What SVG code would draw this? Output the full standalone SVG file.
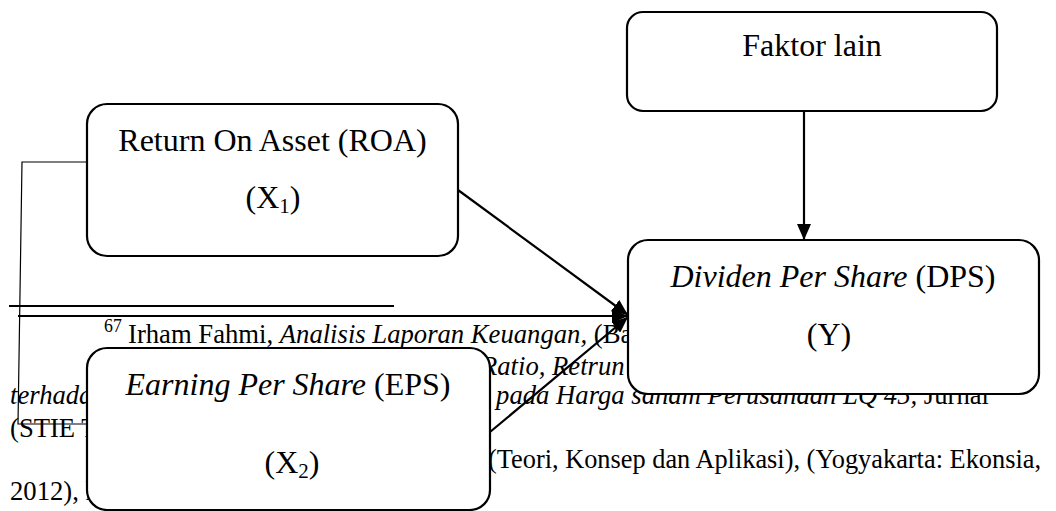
<svg xmlns="http://www.w3.org/2000/svg" width="1056" height="511" viewBox="0 0 1056 511">
<style>
  .t { font-family: "Liberation Serif", "Times New Roman", serif; fill: #000; }
  .bt { font-size: 32px; }
  .fn { font-size: 26.67px; }
  .i { font-style: italic; }
  .node rect { fill: #fff; stroke: #000; stroke-width: 2.2; }
  .conn line, .conn polyline { stroke: #000; fill: none; }
  .thick { stroke-width: 2.2; }
  .thin { stroke-width: 1.2; }
</style>
<defs>
  <marker id="ah" viewBox="0 0 16 14" refX="16" refY="7" markerWidth="16" markerHeight="14" markerUnits="userSpaceOnUse" orient="auto">
    <path d="M0,0 L16,7 L0,14 z" fill="#000"/>
  </marker>
</defs>

<!-- background page text (footnote & body) -->
<g id="page-text" class="t fn">
  <line x1="9" y1="306" x2="394" y2="306" stroke="#000" stroke-width="2"/>
  <text x="104" y="332" font-size="17.8">67</text>
  <text x="128" y="343">Irham Fahmi, <tspan class="i">Analisis Laporan Keuangan,</tspan> (Ba</text>
  <text x="481" y="375" class="i">Ratio, Retrun</text>
  <text x="10" y="404" class="i">terhadap</text>
  <text x="482" y="404"><tspan class="i">i pada Harga saham Perusahaan LQ 45,</tspan> Jurnal</text>
  <text x="10" y="437">(STIE T</text>
  <text x="488" y="468" textLength="553" lengthAdjust="spacingAndGlyphs">(Teori, Konsep dan Aplikasi), (Yogyakarta: Ekonsia,</text>
  <text x="10" y="500">2012), h</text>
</g>

<!-- connectors -->
<g id="connectors" class="conn">
  <polyline class="thin" points="87,162 22,162 18,424 87,424"/>
  <line class="thick" x1="18" y1="316" x2="628" y2="316" marker-end="url(#ah)"/>
  <line class="thick" x1="458" y1="190" x2="628" y2="315" marker-end="url(#ah)"/>
  <line class="thick" x1="490" y1="432" x2="628" y2="317" marker-end="url(#ah)"/>
  <line class="thick" x1="804" y1="112" x2="804" y2="240" marker-end="url(#ah)"/>
</g>

<!-- nodes -->
<g id="node-faktor" class="node">
  <rect x="627" y="12" width="370" height="99" rx="16" ry="16"/>
  <text class="t bt" x="812" y="56" text-anchor="middle">Faktor lain</text>
</g>

<g id="node-roa" class="node">
  <rect x="87" y="104" width="371" height="152" rx="20" ry="20"/>
  <text class="t bt" x="272.5" y="151" text-anchor="middle">Return On Asset (ROA)</text>
  <text class="t bt" x="273" y="208" text-anchor="middle">(X<tspan font-size="21" dy="5">1</tspan><tspan dy="-5">)</tspan></text>
</g>

<g id="node-eps" class="node">
  <rect x="87" y="348" width="403" height="162" rx="20" ry="20"/>
  <text class="t bt" x="288" y="395" text-anchor="middle"><tspan class="i">Earning Per Share</tspan> (EPS)</text>
  <text class="t bt" x="292" y="473" text-anchor="middle">(X<tspan font-size="21" dy="5">2</tspan><tspan dy="-5">)</tspan></text>
</g>

<g id="node-dps" class="node">
  <rect x="628" y="240" width="411" height="154" rx="20" ry="20"/>
  <text class="t bt" x="833" y="287" text-anchor="middle"><tspan class="i">Dividen Per Share</tspan> (DPS)</text>
  <text class="t bt" x="829" y="345" text-anchor="middle">(Y)</text>
</g>
</svg>
